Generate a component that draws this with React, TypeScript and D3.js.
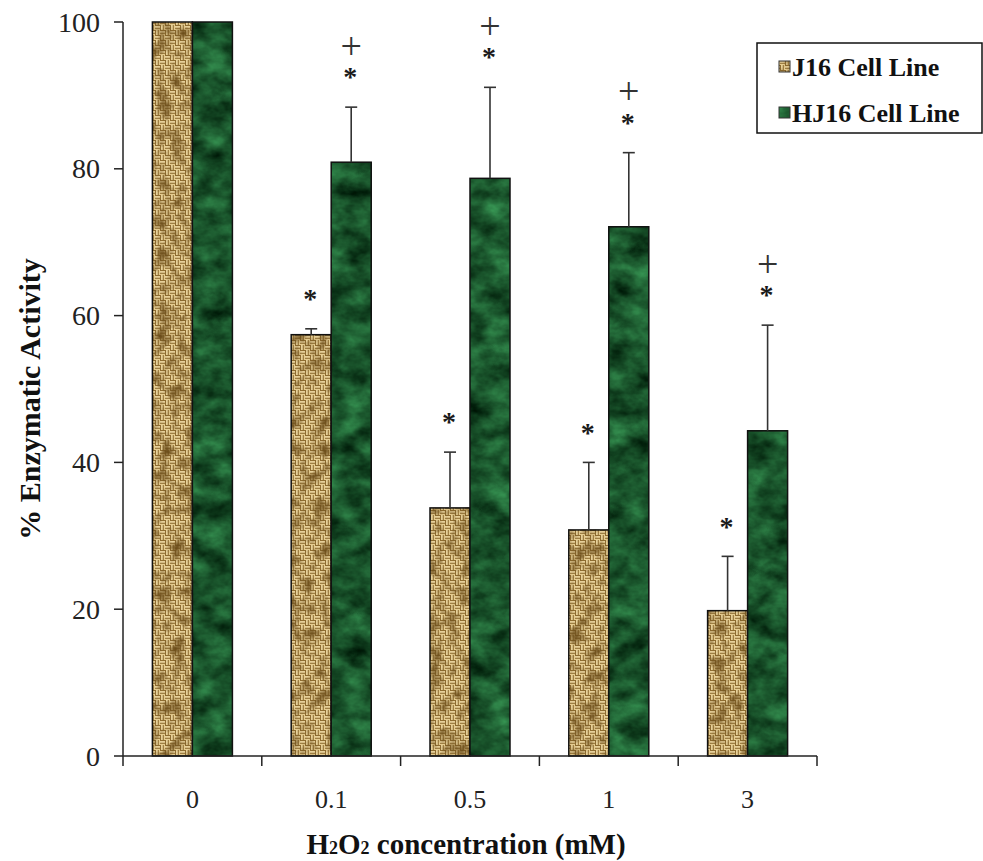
import React from 'react';
import * as d3 from 'd3';

const categories = ['0', '0.1', '0.5', '1', '3'];
const seriesNames = ['J16 Cell Line', 'HJ16 Cell Line'];
const j16Values = [100, 57.4, 33.8, 30.8, 19.8];
const j16Errors = [0, 0.8, 7.6, 9.2, 7.4];
const hj16Values = [100, 80.9, 78.7, 72.1, 44.3];
const hj16Errors = [0, 7.5, 12.4, 10.1, 14.4];
const j16Star = [false, true, true, true, true];
const hj16Star = [false, true, true, true, true];
const hj16Plus = [false, true, true, true, true];
const yTicks = [0, 20, 40, 60, 80, 100];

const W = 983;
const H = 861;
const left = 123;
const right = 817;
const top = 22;
const bottom = 756;
const SERIF = '"Liberation Serif", "Times New Roman", serif';

export default function App() {
  const x = d3.scaleBand<string>().domain(categories).range([left, right]).padding(0);
  const sub = d3.scaleBand<string>().domain(seriesNames).range([0, x.bandwidth()]).paddingInner(0).paddingOuter(0.735);
  const y = d3.scaleLinear().domain([0, 100]).range([bottom, top]);

  const series = [
    { name: seriesNames[0], values: j16Values, errors: j16Errors, star: j16Star, plus: categories.map(() => false), fill: 'url(#weave)', overlay: 'url(#mottle)' },
    { name: seriesNames[1], values: hj16Values, errors: hj16Errors, star: hj16Star, plus: hj16Plus, fill: '#1e5a34', overlay: 'url(#marble)' },
  ];

  const bw = sub.bandwidth();
  const tickBounds = [...categories.map((c) => x(c) as number), right];

  return (
    <svg width={W} height={H} style={{ position: 'absolute', left: 0, top: 0, background: '#fff' }}>
      <defs>
        <pattern id="weave" patternUnits="userSpaceOnUse" width="10" height="10">
          <rect width="10" height="10" fill="#e6cd90" />
          <g stroke="#8e6c30" strokeWidth="1.2">
            <line x1="0" y1="0.6" x2="5" y2="0.6" />
            <line x1="0" y1="3.2" x2="5" y2="3.2" />
            <line x1="5.6" y1="0" x2="5.6" y2="5" />
            <line x1="8.2" y1="0" x2="8.2" y2="5" />
            <line x1="0.6" y1="5" x2="0.6" y2="10" />
            <line x1="3.2" y1="5" x2="3.2" y2="10" />
            <line x1="5" y1="5.6" x2="10" y2="5.6" />
            <line x1="5" y1="8.2" x2="10" y2="8.2" />
          </g>
          <g stroke="#f7e7b8" strokeWidth="0.8">
            <line x1="0" y1="1.9" x2="5" y2="1.9" />
            <line x1="6.9" y1="0" x2="6.9" y2="5" />
            <line x1="1.9" y1="5" x2="1.9" y2="10" />
            <line x1="5" y1="6.9" x2="10" y2="6.9" />
          </g>
        </pattern>
        <filter id="mottle" x="0" y="0" width="1" height="1" colorInterpolationFilters="sRGB">
          <feTurbulence type="fractalNoise" baseFrequency="0.07" numOctaves="3" seed="4" />
          <feColorMatrix type="matrix" values="0 0 0 0 0.42  0 0 0 0 0.30  0 0 0 0 0.10  2.2 0 0 0 -0.95" />
        </filter>
        <filter id="marble" x="0" y="0" width="1" height="1" colorInterpolationFilters="sRGB">
          <feTurbulence type="fractalNoise" baseFrequency="0.035 0.05" numOctaves="4" seed="7" />
          <feColorMatrix type="matrix" values="0.28 0 0 0 -0.04  0.62 0 0 0 0.02  0.38 0 0 0 -0.02  0 0 0 0 1" />
        </filter>
      </defs>

      {/* bars */}
      {series.map((s) =>
        categories.map((c, i) => {
          const bx = (x(c) as number) + (sub(s.name) as number);
          const by = y(s.values[i]);
          const bh = bottom - by;
          return (
            <g key={s.name + c}>
              <rect x={bx} y={by} width={bw} height={bh} fill={s.fill} />
              <rect x={bx} y={by} width={bw} height={bh} fill="#000" filter={s.overlay} />
              <rect x={bx} y={by} width={bw} height={bh} fill="none" stroke="#111" strokeWidth={1.5} />
            </g>
          );
        })
      )}

      {/* error bars and significance marks */}
      {series.map((s) =>
        categories.map((c, i) => {
          if (s.errors[i] <= 0 && !s.star[i]) return null;
          const cx = (x(c) as number) + (sub(s.name) as number) + bw / 2;
          const yTop = y(s.values[i] + s.errors[i]);
          return (
            <g key={'e' + s.name + c}>
              {s.errors[i] > 0 && (
                <g stroke="#333" strokeWidth={1.6}>
                  <line x1={cx} x2={cx} y1={y(s.values[i])} y2={yTop} />
                  <line x1={cx - 6} x2={cx + 6} y1={yTop} y2={yTop} />
                </g>
              )}
              {s.star[i] && (
                <text x={cx - 1} y={yTop - 34} dy="0.47em" textAnchor="middle" fontFamily={SERIF} fontWeight="bold" fontSize={28} fill="#1a1a1a">*</text>
              )}
              {s.plus[i] && (
                <text x={cx} y={yTop - 60} dy="0.3em" textAnchor="middle" fontFamily={SERIF} fontSize={38} fill="#333">+</text>
              )}
            </g>
          );
        })
      )}

      {/* y axis */}
      <g stroke="#222" strokeWidth={1.5}>
        <line x1={left} x2={left} y1={top} y2={bottom} />
        {yTicks.map((t) => (
          <line key={t} x1={left - 9} x2={left} y1={y(t)} y2={y(t)} />
        ))}
      </g>
      {yTicks.map((t) => (
        <text key={'yl' + t} x={100} y={y(t)} dy="0.34em" textAnchor="end" fontFamily={SERIF} fontSize={28} fill="#222">
          {t}
        </text>
      ))}

      {/* x axis */}
      <g stroke="#222" strokeWidth={1.5}>
        <line x1={left} x2={right} y1={bottom} y2={bottom} />
        {tickBounds.map((t, i) => (
          <line key={i} x1={t} x2={t} y1={bottom} y2={bottom + 10} />
        ))}
      </g>
      {categories.map((c) => (
        <text key={'xl' + c} x={(x(c) as number) + x.bandwidth() / 2} y={808} textAnchor="middle" fontFamily={SERIF} fontSize={26} fill="#222">
          {c}
        </text>
      ))}

      {/* axis titles */}
      <text x={466} y={854} textAnchor="middle" fontFamily={SERIF} fontWeight="bold" fontSize={29} fill="#111">
        H<tspan fontSize={18}>2</tspan>O<tspan fontSize={18}>2</tspan> concentration (mM)
      </text>
      <text transform="translate(40,399) rotate(-90)" textAnchor="middle" fontFamily={SERIF} fontWeight="bold" fontSize={30} fill="#111">
        % Enzymatic Activity
      </text>

      {/* legend */}
      <rect x={757} y={43} width={225} height={90} fill="#fff" stroke="#111" strokeWidth={1.5} />
      {series.map((s, i) => (
        <g key={'lg' + s.name}>
          <rect x={779} y={61 + i * 46} width={11} height={11} fill={s.fill} />
          <rect x={779} y={61 + i * 46} width={11} height={11} fill="#000" filter={s.overlay} />
          <rect x={779} y={61 + i * 46} width={11} height={11} fill="none" stroke="#333" strokeWidth={1} />
          <text x={792} y={76 + i * 46} fontFamily={SERIF} fontWeight="bold" fontSize={26} fill="#111">
            {s.name}
          </text>
        </g>
      ))}
    </svg>
  );
}
